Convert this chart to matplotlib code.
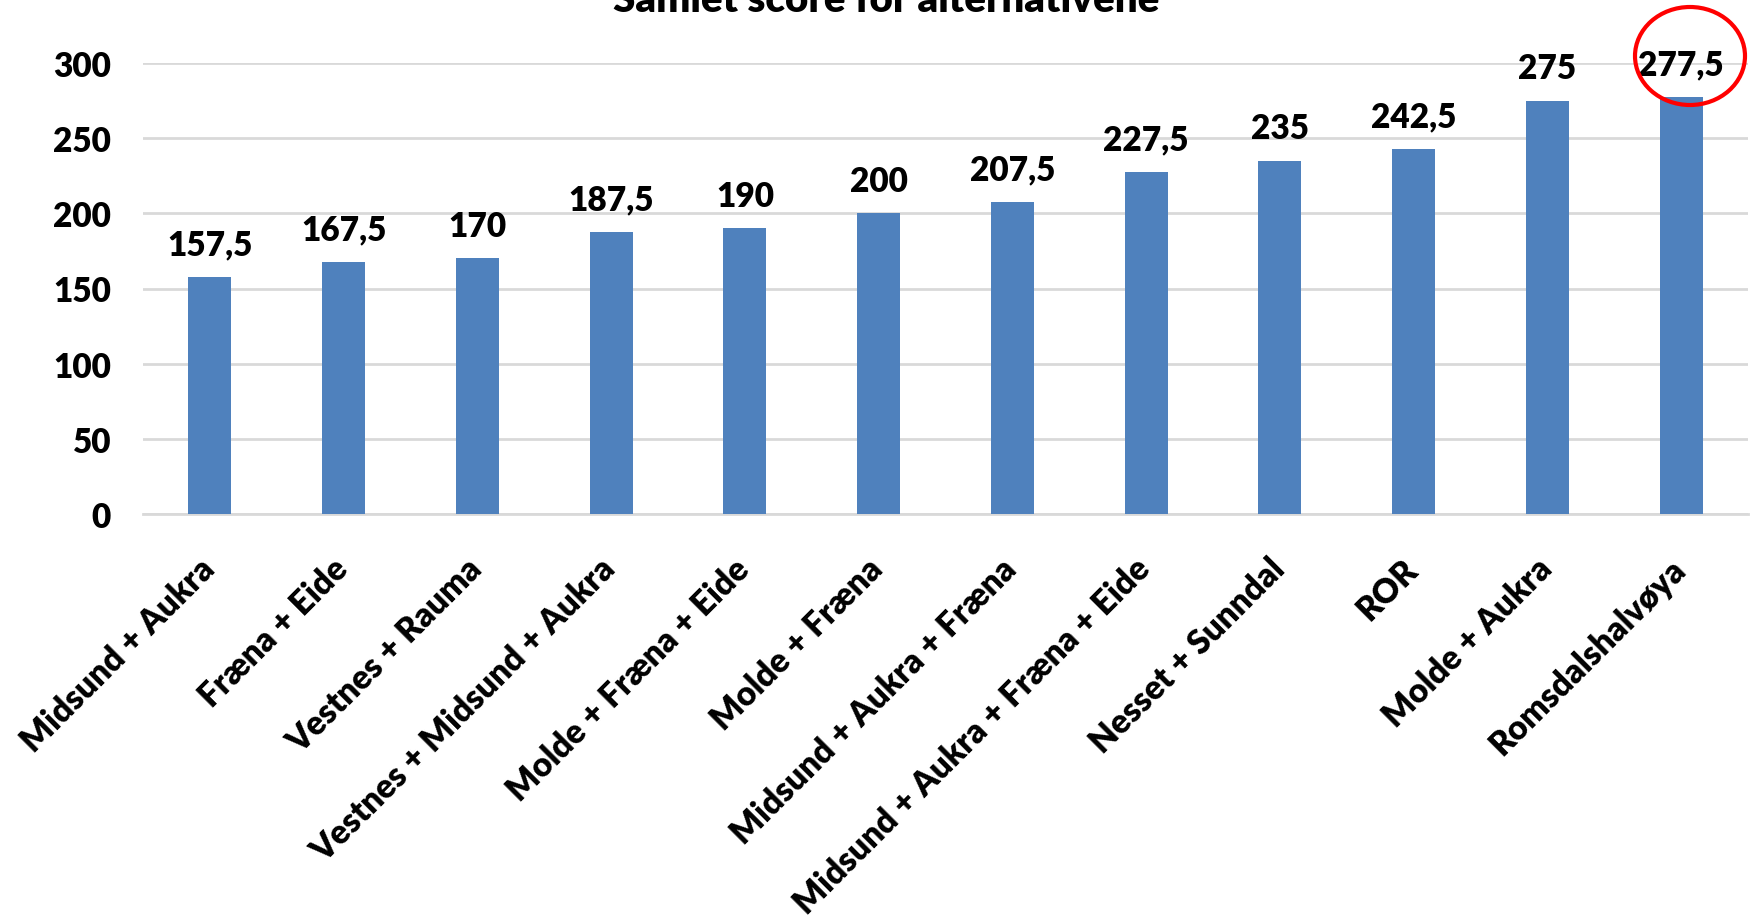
import numpy as np
import matplotlib.pyplot as plt
from matplotlib.patches import Ellipse
from matplotlib.transforms import ScaledTranslation

categories = ['Midsund + Aukra', 'Fræna + Eide', 'Vestnes + Rauma',
              'Vestnes + Midsund + Aukra', 'Molde + Fræna + Eide',
              'Molde + Fræna', 'Midsund + Aukra + Fræna',
              'Midsund + Aukra + Fræna + Eide', 'Nesset + Sunndal', 'ROR',
              'Molde + Aukra', 'Romsdalshalvøya']
scores = [157.5, 167.5, 170, 187.5, 190, 200, 207.5, 227.5, 235, 242.5, 275, 277.5]
y_ticks = [0, 50, 100, 150, 200, 250, 300]

BAR_COLOR = '#4F81BD'
GRID_COLOR = '#D9D9D9'
WEIGHT = 'heavy'

plt.rcParams['font.family'] = ['Lato', 'DejaVu Sans']


def fmt(v):
    s = f'{v:g}'
    return s.replace('.', ',')


def main():
    fig = plt.figure(figsize=(17.54, 9.2), dpi=100)
    ax = fig.add_axes([143 / 1754, 1 - 515 / 920, (1748 - 143) / 1754, (515 - 64) / 920])

    x = np.arange(len(categories))
    bars = ax.bar(x, scores, width=0.32, color=BAR_COLOR, zorder=3)

    ax.set_xlim(-0.5, len(categories) - 0.5)
    ax.set_ylim(0, 300)
    ax.set_yticks(y_ticks)
    ax.set_yticklabels([str(t) for t in y_ticks], fontsize=24, fontweight=WEIGHT)
    ax.yaxis.grid(True, color=GRID_COLOR, lw=2, zorder=0)
    ax.tick_params(axis='y', length=0, pad=23)

    # category labels, rotated 45 degrees and anchored at their top right corner
    ax.set_xticks(x)
    ax.set_xticklabels([])
    ax.tick_params(axis='x', length=0)
    offset = ScaledTranslation(-0.12, -0.38, fig.dpi_scale_trans)
    for xi, cat in zip(x, categories):
        ax.text(xi, 0, cat, transform=ax.get_xaxis_transform() + offset,
                rotation=45, ha='right', va='top', rotation_mode='anchor',
                fontsize=24, fontweight=WEIGHT)

    for s in ['top', 'right', 'left']:
        ax.spines[s].set_visible(False)
    ax.spines['bottom'].set_color(GRID_COLOR)
    ax.spines['bottom'].set_linewidth(2)

    for b, v in zip(bars, scores):
        ax.annotate(fmt(v), (b.get_x() + b.get_width() / 2, v),
                    xytext=(0, 12), textcoords='offset points',
                    ha='center', va='bottom', fontsize=24, fontweight=WEIGHT,
                    annotation_clip=False)

    # red circle around the top score
    ell = Ellipse((1690 / 1754, 1 - 57 / 920), 110 / 1754, 98 / 920,
                  transform=fig.transFigure, fill=False, edgecolor='#FF0000', lw=3)
    fig.patches.append(ell)

    fig.text(0.505, 1.0, 'Samlet score for alternativene', ha='center', va='center',
             fontsize=29, fontweight=WEIGHT)

    fig.savefig('out.png', dpi=100)


if __name__ == '__main__':
    main()
